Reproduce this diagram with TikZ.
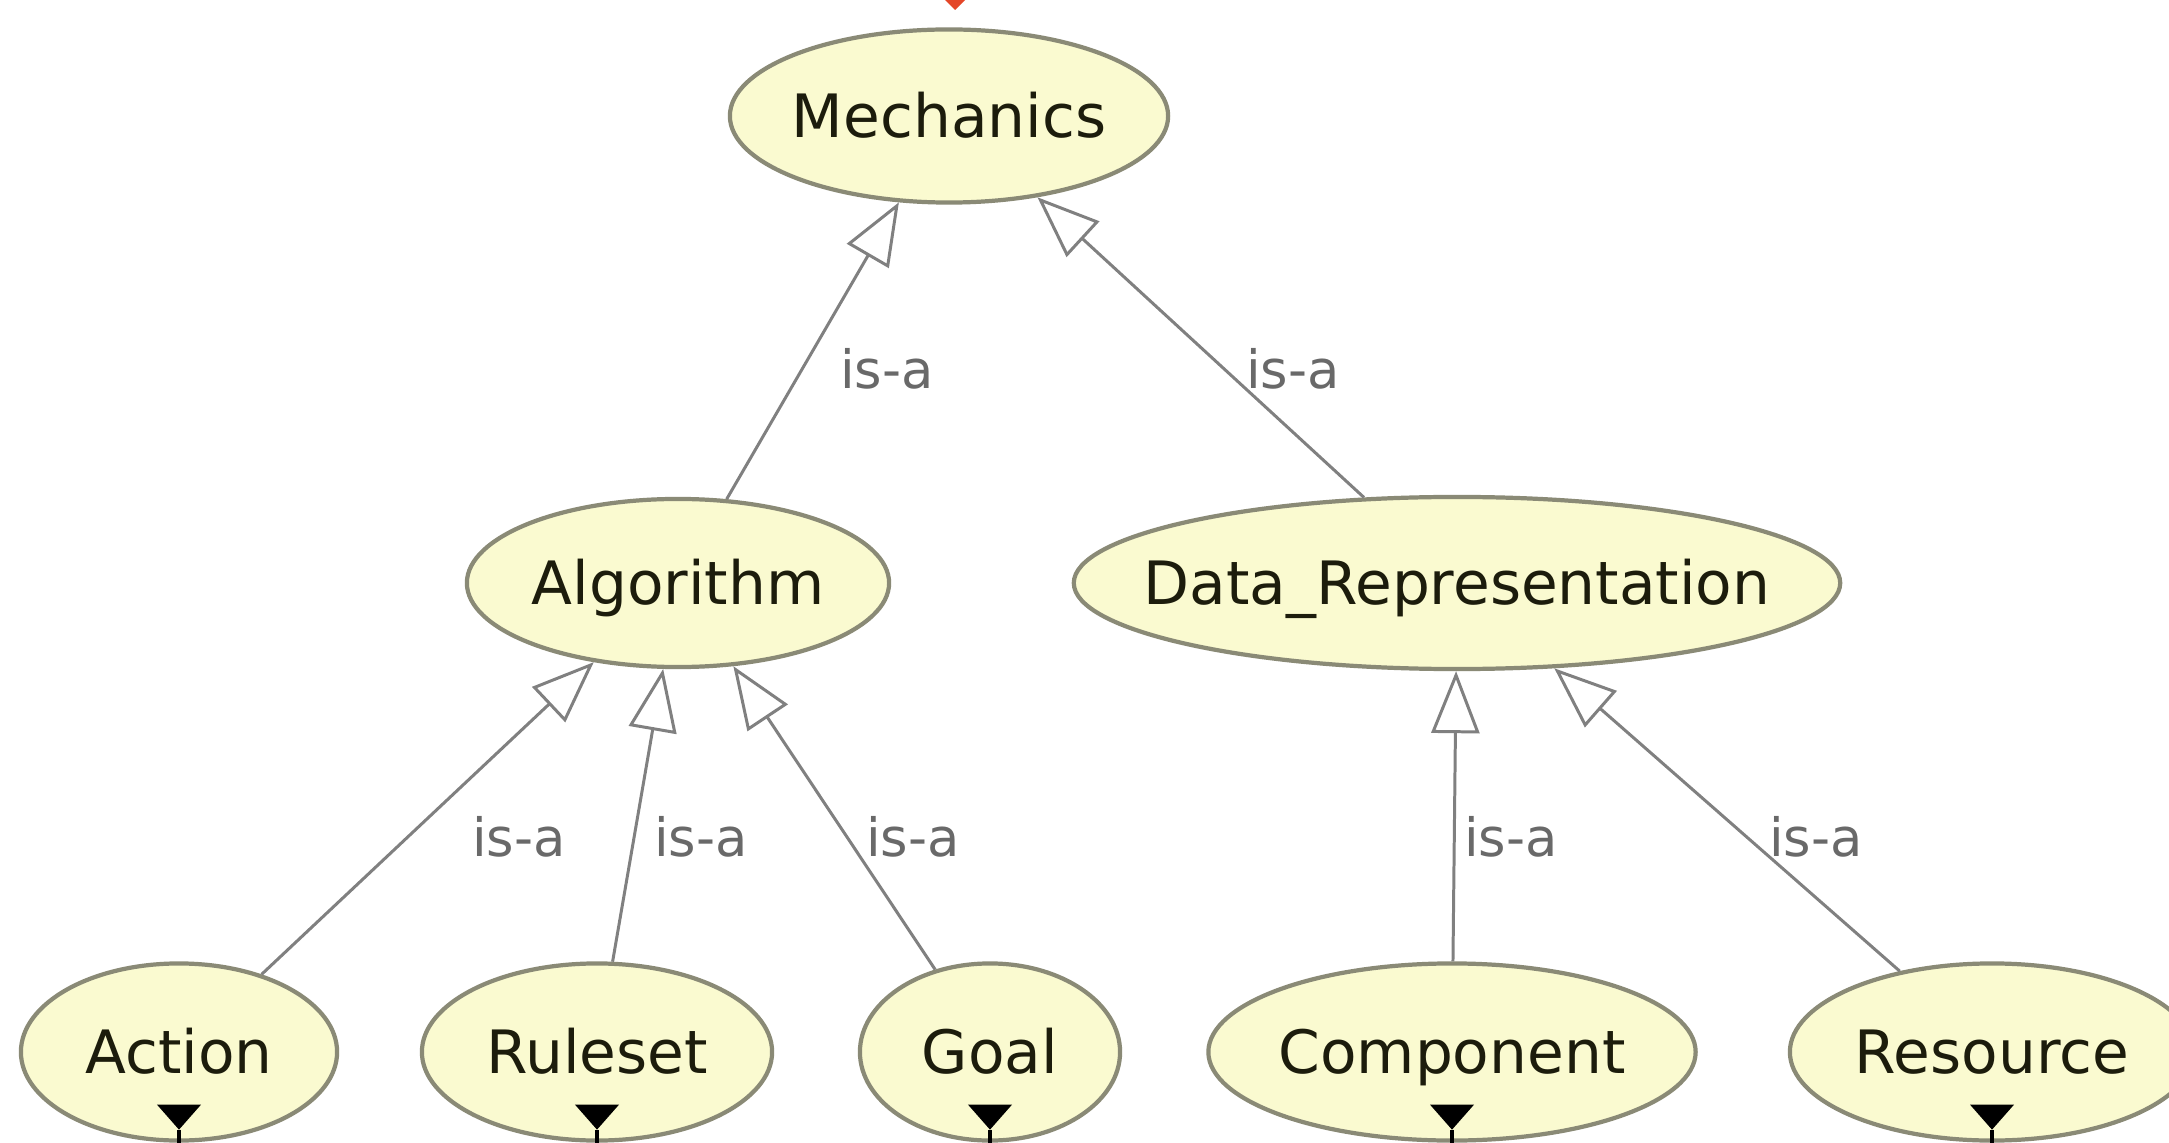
\documentclass[tikz,border=0pt]{standalone}
\usepackage{fontspec}
\setmainfont{DejaVu Sans}
\usetikzlibrary{shapes.geometric,arrows.meta}

\definecolor{clsfill}{RGB}{250,250,208}
\definecolor{clsline}{RGB}{138,138,118}
\definecolor{clstext}{RGB}{28,28,12}
\definecolor{edgeline}{RGB}{128,128,128}
\definecolor{edgetext}{RGB}{105,105,105}
\definecolor{markred}{RGB}{228,70,40}

\tikzset{
  cls/.style={ellipse, draw=clsline, fill=clsfill, line width=1.2pt,
    inner sep=0pt, text=clstext, text height=12.4pt, text depth=0pt,
    font=\fontsize{17}{20}\selectfont},
  isa/.style={draw=edgeline, line width=0.85pt,
    -{Triangle[open, length=0.62cm, width=0.48cm, fill=white, line width=0.85pt]}},
  isalabel/.style={text=edgetext, font=\fontsize{15}{18}\selectfont, inner sep=0pt},
  expander/.style={fill=black, draw=none}
}

\begin{document}
\begin{tikzpicture}[x=0.01cm, y=-0.01cm]
  \useasboundingbox (0,0) rectangle (2169,1143);
  \clip (0,0) rectangle (2169,1143);
  \fill[white] (0,0) rectangle (2169,1143);

  % marker above the root class
  \fill[markred] (937,-8) -- (973,-8) -- (955,10) -- cycle;

  % classes
  \node[cls, minimum width=4.38cm, minimum height=1.73cm] (mech) at (949,116) {\makebox[0pt]{Mechanics}};
  \node[cls, minimum width=4.22cm, minimum height=1.68cm] (algo) at (678,583) {\makebox[0pt]{Algorithm}};
  \node[cls, minimum width=7.66cm, minimum height=1.72cm] (data) at (1457,583) {\makebox[0pt]{Data\_Representation}};
  \node[cls, minimum width=3.16cm, minimum height=1.77cm] (action) at (179,1052) {\makebox[0pt]{Action}};
  \node[cls, minimum width=3.50cm, minimum height=1.77cm] (ruleset) at (597,1052) {\makebox[0pt]{Ruleset}};
  \node[cls, minimum width=2.60cm, minimum height=1.77cm] (goal) at (990,1052) {\makebox[0pt]{Goal}};
  \node[cls, minimum width=4.87cm, minimum height=1.77cm] (comp) at (1452,1052) {\makebox[0pt]{Component}};
  \node[cls, minimum width=4.04cm, minimum height=1.77cm] (res) at (1992,1052) {\makebox[0pt]{Resource}};

  % subclass links
  \draw[isa] (algo) -- (mech);
  \draw[isa] (data) -- (mech);
  \draw[isa] (action) -- (algo);
  \draw[isa] (ruleset) -- (algo);
  \draw[isa] (goal) -- (algo);
  \draw[isa] (comp) -- (data);
  \draw[isa] (res) -- (data);

  % link labels
  \node[isalabel] (l1) at (887,369) {is-a};
  \node[isalabel] (l2) at (1293,369) {is-a};
  \node[isalabel] (l3) at (519,837) {is-a};
  \node[isalabel] (l4) at (701,837) {is-a};
  \node[isalabel] (l5) at (913,837) {is-a};
  \node[isalabel] (l6) at (1511,837) {is-a};
  \node[isalabel] (l7) at (1816,837) {is-a};

  % expand markers on the leaf classes
  \foreach \n in {action,ruleset,goal,comp,res}{
    \fill[expander] ([xshift=-0.22cm, yshift=0.38cm]\n.south) -- ++(0.44cm,0) -- ([yshift=0.13cm]\n.south) -- cycle;
    \draw[black, line width=1pt] ([yshift=0.13cm]\n.south) -- (\n.south);
  }
\end{tikzpicture}
\end{document}
